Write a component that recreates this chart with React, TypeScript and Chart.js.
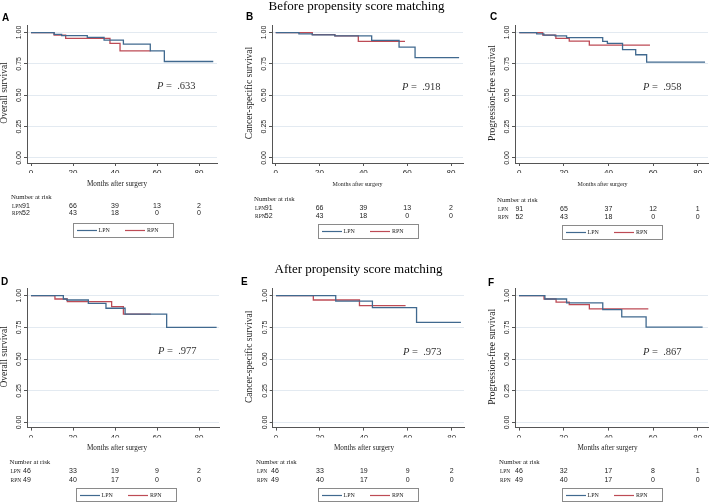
import React, { useEffect, useRef } from "react";
import { Chart, registerables } from "chart.js";

Chart.register(...registerables);

// ---------- shared axis data ----------
const xTicks = [0, 20, 40, 60, 80];
const yTicks = [0, 0.25, 0.5, 0.75, 1];
const yTickLabels = ["0.00", "0.25", "0.50", "0.75", "1.00"];
const seriesNames = ["LPN", "RPN"];
const panelLetters = ["A", "B", "C", "D", "E", "F"];
const yTitles = [
  "Overall survival",
  "Cancer-specific survival",
  "Progression-free survival",
  "Overall survival",
  "Cancer-specific survival",
  "Progression-free survival",
];
const groupTitles = ["Before propensity score matching", "After propensity score matching"];
const xTitle = "Months after surgery";
const riskTitle = "Number at risk";
const pValues = [".633", ".918", ".958", ".977", ".973", ".867"];

// ---------- Panel A: overall survival, before PSM ----------
const aLpnTime = [0, 11, 14.6, 26.8, 34.8, 44, 56.8, 63.5, 86.8];
const aLpnSurv = [1, 0.986, 0.976, 0.962, 0.94, 0.908, 0.853, 0.769, 0.769];
const aRpnTime = [0, 11, 16.5, 37.6, 42.4, 57];
const aRpnSurv = [1, 0.98, 0.954, 0.913, 0.853, 0.853];
const aRiskLpn = [91, 66, 39, 13, 2];
const aRiskRpn = [52, 43, 18, 0, 0];

// ---------- Panel B: cancer-specific survival, before PSM ----------
const bLpnTime = [0, 10.6, 16.7, 27, 43.8, 56.3, 63.6, 83.7];
const bLpnSurv = [1, 0.99, 0.981, 0.973, 0.938, 0.884, 0.8, 0.8];
const bRpnTime = [0, 16.7, 27, 37.7, 59];
const bRpnSurv = [1, 0.984, 0.973, 0.93, 0.93];
const bRiskLpn = [91, 66, 39, 13, 2];
const bRiskRpn = [52, 43, 18, 0, 0];

// ---------- Panel C: progression-free survival, before PSM ----------
const cLpnTime = [0, 7.8, 11, 16, 21.2, 37.4, 39.5, 46.3, 52.2, 57.1, 83.3];
const cLpnSurv = [1, 0.99, 0.98, 0.973, 0.96, 0.93, 0.913, 0.864, 0.823, 0.764, 0.764];
const cRpnTime = [0, 10.5, 16.4, 22.4, 31.4, 58.6];
const cRpnSurv = [1, 0.98, 0.954, 0.932, 0.9, 0.9];
const cRiskLpn = [91, 65, 37, 12, 1];
const cRiskRpn = [52, 43, 18, 0, 0];

// ---------- Panel D: overall survival, after PSM ----------
const dLpnTime = [0, 15.4, 17, 27.3, 35.7, 44.8, 64.6, 88.4];
const dLpnSurv = [1, 0.974, 0.966, 0.94, 0.901, 0.854, 0.75, 0.75];
const dRpnTime = [0, 11.4, 17.3, 38.4, 44, 57];
const dRpnSurv = [1, 0.974, 0.953, 0.914, 0.854, 0.854];
const dRiskLpn = [46, 33, 19, 9, 2];
const dRiskRpn = [49, 40, 17, 0, 0];

// ---------- Panel E: cancer-specific survival, after PSM ----------
const eLpnTime = [0, 27.2, 43.9, 64, 84.2];
const eLpnSurv = [1, 0.958, 0.906, 0.79, 0.79];
const eRpnTime = [0, 17, 38, 59];
const eRpnSurv = [1, 0.966, 0.922, 0.922];
const eRiskLpn = [46, 33, 19, 9, 2];
const eRiskRpn = [49, 40, 17, 0, 0];

// ---------- Panel F: progression-free survival, after PSM ----------
const fLpnTime = [0, 11.6, 21.3, 37.5, 46, 56.9, 82.2];
const fLpnSurv = [1, 0.974, 0.943, 0.89, 0.833, 0.753, 0.753];
const fRpnTime = [0, 11.2, 16.6, 22.5, 31.5, 57.9];
const fRpnSurv = [1, 0.974, 0.95, 0.93, 0.896, 0.896];
const fRiskLpn = [46, 32, 17, 8, 1];
const fRiskRpn = [49, 40, 17, 0, 0];

const panels = [
  { lt: aLpnTime, ls: aLpnSurv, rt: aRpnTime, rs: aRpnSurv, rl: aRiskLpn, rr: aRiskRpn },
  { lt: bLpnTime, ls: bLpnSurv, rt: bRpnTime, rs: bRpnSurv, rl: bRiskLpn, rr: bRiskRpn },
  { lt: cLpnTime, ls: cLpnSurv, rt: cRpnTime, rs: cRpnSurv, rl: cRiskLpn, rr: cRiskRpn },
  { lt: dLpnTime, ls: dLpnSurv, rt: dRpnTime, rs: dRpnSurv, rl: dRiskLpn, rr: dRiskRpn },
  { lt: eLpnTime, ls: eLpnSurv, rt: eRpnTime, rs: eRpnSurv, rl: eRiskLpn, rr: eRiskRpn },
  { lt: fLpnTime, ls: fLpnSurv, rt: fRpnTime, rs: fRpnSurv, rl: fRiskLpn, rr: fRiskRpn },
];

// ---------- layout (page pixel positions) ----------
const LPN_COLOR = "#40698f";
const RPN_COLOR = "#bd4b55";
const SERIF = '"Liberation Serif", "Times New Roman", serif';
const SANS = '"Liberation Sans", Arial, sans-serif';

const layouts = [
  { cl: 0, ct: 0, cw: 235, ch: 250, L: 27, R: 217, T: 25, B: 163, x0: 31, x80: 199, letter: [2, 21], p: [157, 86], riskLeft: 11, firstShift: -5, monthsX: 117, monthsY: 184, monthsSize: 7.2, numberY: 197, lpnY: 206.5, rpnY: 213, boxL: 73, boxT: 223, boxH: 14, title: null as null | number[] },
  { cl: 235, ct: 0, cw: 235, ch: 250, L: 272, R: 463, T: 25, B: 163, x0: 275.7, x80: 451, letter: [246, 20], p: [402, 87], riskLeft: 254, firstShift: -7, monthsX: 357.5, monthsY: 184, monthsSize: 6, numberY: 199, lpnY: 208, rpnY: 216.5, boxL: 318, boxT: 224, boxH: 14, title: [356.5, 9.5] },
  { cl: 470, ct: 0, cw: 239, ch: 250, L: 515, R: 708, T: 25, B: 163, x0: 519.3, x80: 697.7, letter: [490, 20], p: [643, 87], riskLeft: 497, firstShift: 0, monthsX: 602.5, monthsY: 184, monthsSize: 6, numberY: 200, lpnY: 209, rpnY: 217.5, boxL: 562, boxT: 225, boxH: 14, title: null },
  { cl: 0, ct: 250, cw: 235, ch: 252, L: 27, R: 219, T: 288.1, B: 427.6, x0: 31, x80: 199, letter: [1, 285], p: [158, 351], riskLeft: 9.5, firstShift: -4, monthsX: 117, monthsY: 448, monthsSize: 7.2, numberY: 462, lpnY: 471, rpnY: 480, boxL: 76, boxT: 488, boxH: 13, title: null },
  { cl: 235, ct: 250, cw: 235, ch: 252, L: 272.7, R: 464, T: 288.1, B: 427.6, x0: 276, x80: 451.7, letter: [241, 285], p: [403, 352], riskLeft: 256, firstShift: -1, monthsX: 364, monthsY: 448, monthsSize: 7.2, numberY: 462, lpnY: 471, rpnY: 480, boxL: 318, boxT: 488, boxH: 13, title: [358.5, 273] },
  { cl: 470, ct: 250, cw: 239, ch: 252, L: 515, R: 708, T: 288.1, B: 427.6, x0: 519, x80: 697.7, letter: [488, 286], p: [643, 352], riskLeft: 499, firstShift: 0, monthsX: 607.5, monthsY: 448, monthsSize: 7.2, numberY: 462, lpnY: 471, rpnY: 480, boxL: 562, boxT: 488, boxH: 13, title: null },
];

const Y_MIN = -0.04;
const Y_MAX = 1.06;

function Panel({ idx }: { idx: number }) {
  const ref = useRef<HTMLCanvasElement>(null);
  const lay = layouts[idx];

  useEffect(() => {
    const d = panels[idx];
    const ppm = (lay.x80 - lay.x0) / 80;
    const xMin = (lay.L - lay.x0) / ppm;
    const xMax = (lay.R - lay.x0) / ppm;
    const AX = 10; // forced axis box size
    const X = (v: number) => v - lay.cl;
    const Y = (v: number) => v - lay.ct;

    // draws text squeezed horizontally (condensed look of the original)
    const squeezed = (ctx: CanvasRenderingContext2D, text: string, x: number, y: number, k: number) => {
      ctx.save();
      ctx.translate(x, y);
      ctx.scale(k, 1);
      ctx.fillText(text, 0, 0);
      ctx.restore();
    };

    const decor = {
      id: "decor" + idx,
      afterDraw(chart: any) {
        const ctx = chart.ctx as CanvasRenderingContext2D;
        const ca = chart.chartArea;
        const xs = chart.scales.x;
        const ys = chart.scales.y;
        ctx.save();
        ctx.fillStyle = "#222";

        // y tick labels (rotated)
        ctx.font = `7px ${SANS}`;
        ctx.textAlign = "center";
        ctx.textBaseline = "middle";
        yTicks.forEach((v, i) => {
          const y = ys.getPixelForValue(v);
          ctx.save();
          ctx.translate(ca.left - 8, y);
          ctx.rotate(-Math.PI / 2);
          ctx.fillText(yTickLabels[i], 0, 0);
          ctx.restore();
        });

        // y title
        ctx.font = `9.5px ${SERIF}`;
        ctx.save();
        ctx.translate(ca.left - 23, (ca.top + ca.bottom) / 2 - 1);
        ctx.rotate(-Math.PI / 2);
        ctx.fillText(yTitles[idx], 0, 0);
        ctx.restore();

        // panel letter
        ctx.font = `bold 10px ${SANS}`;
        ctx.textAlign = "left";
        ctx.textBaseline = "alphabetic";
        ctx.fillStyle = "#000";
        ctx.fillText(panelLetters[idx], X(lay.letter[0]), Y(lay.letter[1]));

        // group title
        if (lay.title) {
          ctx.font = `13px ${SERIF}`;
          ctx.textAlign = "center";
          ctx.fillText(groupTitles[idx < 3 ? 0 : 1], X(lay.title[0]), Y(lay.title[1]));
        }

        // P value
        ctx.fillStyle = "#333";
        ctx.textBaseline = "middle";
        ctx.textAlign = "left";
        ctx.font = `italic 10.5px ${SERIF}`;
        const px = X(lay.p[0]);
        const py = Y(lay.p[1]);
        ctx.fillText("P", px, py);
        const pw = ctx.measureText("P").width;
        ctx.font = `10.5px ${SERIF}`;
        ctx.fillText(" =  " + pValues[idx], px + pw, py);

        // x title
        ctx.fillStyle = "#222";
        ctx.font = `${lay.monthsSize}px ${SERIF}`;
        ctx.textAlign = "center";
        ctx.fillText(xTitle, X(lay.monthsX), Y(lay.monthsY));

        // risk table
        ctx.textAlign = "left";
        ctx.font = `6.8px ${SERIF}`;
        ctx.fillText(riskTitle, X(lay.riskLeft), Y(lay.numberY));
        const rows = [
          { name: seriesNames[0], vals: d.rl, y: lay.lpnY },
          { name: seriesNames[1], vals: d.rr, y: lay.rpnY },
        ];
        rows.forEach((r) => {
          ctx.textAlign = "left";
          ctx.font = `6.8px ${SERIF}`;
          squeezed(ctx, r.name, X(lay.riskLeft + 1), Y(r.y), 0.8);
          ctx.textAlign = "center";
          ctx.font = `7px ${SANS}`;
          r.vals.forEach((v, i) => {
            const x = xs.getPixelForValue(xTicks[i]) + (i === 0 ? lay.firstShift : 0);
            ctx.fillText(String(v), x, Y(r.y));
          });
        });

        // legend box
        const bx = X(lay.boxL);
        const by = Y(lay.boxT);
        ctx.strokeStyle = "#8a8a8a";
        ctx.lineWidth = 1;
        ctx.strokeRect(Math.round(bx) + 0.5, Math.round(by) + 0.5, 100, lay.boxH);
        const my = Math.round(by + lay.boxH / 2) + 0.5;
        ctx.lineWidth = 1.2;
        ctx.strokeStyle = LPN_COLOR;
        ctx.beginPath();
        ctx.moveTo(bx + 4, my);
        ctx.lineTo(bx + 24, my);
        ctx.stroke();
        ctx.strokeStyle = RPN_COLOR;
        ctx.beginPath();
        ctx.moveTo(bx + 52, my);
        ctx.lineTo(bx + 72, my);
        ctx.stroke();
        ctx.fillStyle = "#222";
        ctx.textAlign = "left";
        ctx.font = `7px ${SERIF}`;
        squeezed(ctx, seriesNames[0], bx + 25.5, my, 0.85);
        squeezed(ctx, seriesNames[1], bx + 74, my, 0.85);

        ctx.restore();
      },
    };

    const chart = new Chart(ref.current as HTMLCanvasElement, {
      type: "line",
      data: {
        datasets: [
          {
            label: seriesNames[0],
            data: d.lt.map((t, i) => ({ x: t, y: d.ls[i] })),
            borderColor: LPN_COLOR,
            borderWidth: 1.3,
            pointRadius: 0,
            stepped: "before",
            fill: false,
          },
          {
            label: seriesNames[1],
            data: d.rt.map((t, i) => ({ x: t, y: d.rs[i] })),
            borderColor: RPN_COLOR,
            borderWidth: 1.3,
            pointRadius: 0,
            stepped: "before",
            fill: false,
          },
        ],
      },
      options: {
        animation: false,
        responsive: false,
        maintainAspectRatio: false,
        layout: {
          padding: {
            left: lay.L - lay.cl - AX,
            right: lay.cl + lay.cw - lay.R,
            top: lay.T - lay.ct,
            bottom: lay.ct + lay.ch - lay.B - AX,
          },
        },
        plugins: { legend: { display: false }, tooltip: { enabled: false } },
        scales: {
          x: {
            type: "linear",
            min: xMin,
            max: xMax,
            afterFit: (s: any) => {
              s.height = AX;
            },
            afterBuildTicks: (s: any) => {
              s.ticks = xTicks.map((v) => ({ value: v }));
            },
            grid: { drawOnChartArea: false, drawTicks: true, tickLength: 3, tickColor: "#555" },
            border: { color: "#555", width: 1 },
            ticks: {
              font: { family: SANS, size: 8 },
              color: "#222",
              padding: 2,
              maxRotation: 0,
              autoSkip: false,
            },
          },
          y: {
            type: "linear",
            min: Y_MIN,
            max: Y_MAX,
            afterFit: (s: any) => {
              s.width = AX;
            },
            afterBuildTicks: (s: any) => {
              s.ticks = yTicks.map((v) => ({ value: v }));
            },
            grid: { color: "#e3eaf1", lineWidth: 1, drawTicks: true, tickLength: 3, tickColor: "#555" },
            border: { color: "#555", width: 1 },
            ticks: { display: false },
          },
        },
      },
      plugins: [decor],
    } as any);
    return () => chart.destroy();
  }, [idx]);

  return (
    <canvas
      ref={ref}
      width={lay.cw}
      height={lay.ch}
      style={{ position: "absolute", left: lay.cl, top: lay.ct, width: lay.cw, height: lay.ch }}
    />
  );
}

export default function App() {
  return (
    <div style={{ position: "absolute", left: 0, top: 0, width: 709, height: 502, background: "#fff", overflow: "hidden" }}>
      {panels.map((_, i) => (
        <Panel key={i} idx={i} />
      ))}
    </div>
  );
}
